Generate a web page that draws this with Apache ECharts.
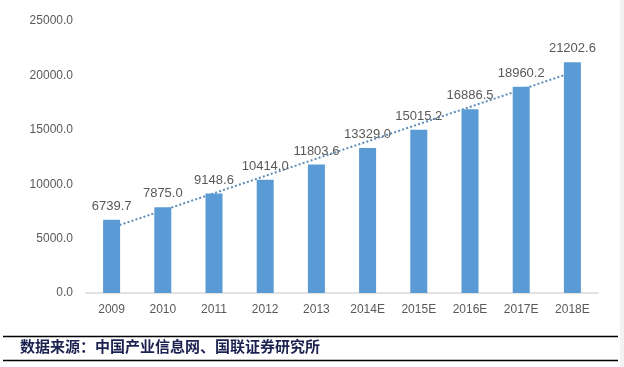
<!DOCTYPE html>
<html>
<head>
<meta charset="utf-8">
<script src="https://cdn.jsdelivr.net/npm/echarts@6/dist/echarts.min.js"></script>
<style>
html,body{margin:0;padding:0;background:#fff;}
#c{width:624px;height:367px;}
</style>
</head>
<body>
<div id="c"></div>
<script>
const categories = ['2009','2010','2011','2012','2013','2014E','2015E','2016E','2017E','2018E'];
const values = [6739.7, 7875.0, 9148.6, 10414.0, 11803.6, 13329.0, 15015.2, 16886.5, 18960.2, 21202.6];
// dotted trend line endpoints (first and last category)
const trend = [6000, null, null, null, null, null, null, null, null, 20280];
const yTicks = [0, 5000, 10000, 15000, 20000, 25000];
const sourceText = '数据来源：中国产业信息网、国联证券研究所';

const chart = echarts.init(document.getElementById('c'), null, {renderer: 'canvas'});
chart.setOption({
  animation: false,
  backgroundColor: '#ffffff',
  grid: {left: 86, right: 26, top: 21, bottom: 74, containLabel: false},
  xAxis: {
    type: 'category',
    data: categories,
    axisTick: {show: false},
    axisLine: {lineStyle: {color: '#D9D9D9', width: 1.5}},
    axisLabel: {color: '#595959', fontSize: 12, fontFamily: 'Liberation Sans, Arial, sans-serif', margin: 11}
  },
  yAxis: {
    type: 'value',
    min: yTicks[0],
    max: yTicks[yTicks.length - 1],
    interval: yTicks[1] - yTicks[0],
    splitLine: {show: false},
    axisLine: {show: false},
    axisTick: {show: false},
    axisLabel: {
      color: '#595959', fontSize: 12, fontFamily: 'Liberation Sans, Arial, sans-serif', margin: 13,
      formatter: v => v.toFixed(1)
    }
  },
  series: [
    {
      type: 'line',
      data: trend,
      connectNulls: true,
      symbol: 'none',
      z: 1,
      lineStyle: {color: '#5F8DB8', width: 2, type: [2, 2.2]},
      silent: true
    },
    {
      type: 'bar',
      data: values,
      barWidth: 17,
      z: 3,
      itemStyle: {color: '#5B9BD5'},
      label: {
        show: true,
        position: 'top',
        distance: 7,
        color: '#595959',
        fontSize: 13,
        fontFamily: 'Liberation Sans, Arial, sans-serif',
        formatter: p => p.value.toFixed(1)
      }
    }
  ],
  graphic: [
    {type: 'line', shape: {x1: 3, y1: 336.5, x2: 618, y2: 336.5}, style: {stroke: '#000', lineWidth: 1.5}},
    {type: 'line', shape: {x1: 3, y1: 360.5, x2: 618, y2: 360.5}, style: {stroke: '#000', lineWidth: 1.5}},
    {type: 'rect', shape: {x: 620, y: 0, width: 4, height: 367}, style: {fill: '#f2f2f2'}},
    {
      type: 'text', left: 20, top: 339,
      style: {
        text: sourceText,
        fill: '#1c2250',
        font: 'bold 15px "Noto Sans CJK SC", sans-serif'
      }
    }
  ]
});
</script>
</body>
</html>
